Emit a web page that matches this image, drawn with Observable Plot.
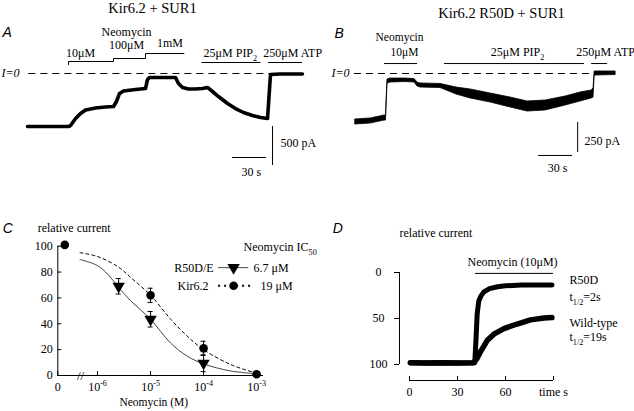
<!DOCTYPE html>
<html><head><meta charset="utf-8">
<script src="https://cdn.jsdelivr.net/npm/d3@7"></script>
<script src="https://cdn.jsdelivr.net/npm/@observablehq/plot@0.6"></script>
<style>
html,body{margin:0;padding:0;background:#fff;}
#fig{position:relative;width:634px;height:411px;overflow:hidden;background:#fff;}
#fig svg{position:absolute;left:0;top:0;}
</style></head><body><div id="fig"></div>
<script>
// ================= DATA =================
// Panel A: Kir6.2 + SUR1 current trace (time s, current pA)
const traceA_time = [0, 20, 36, 38, 42.4, 46.8, 51.2, 60, 68.8, 75.9, 78.5, 81.2, 84.7, 95.3, 104.1, 105.9, 107.6, 130.6, 133.2, 136.8, 142, 148, 154.4, 158.8, 163.2, 168.5, 176.5, 183.5, 190.6, 198.5, 205.6, 211.8, 214.4, 223, 242.6];
const traceA_current = [-680, -680, -680, -667, -577, -513, -468, -442, -429, -423, -359, -256, -224, -205, -192, -77, -51, -51, -128, -179, -199, -199, -192, -179, -231, -295, -385, -449, -500, -538, -564, -577, -13, -6, -6];
const neoA_label = ["10μM", "100μM", "1mM"];
const neoA_on = [36.2, 75.9, 104.1];
const neoA_off = [75.9, 104.1, 138];
const pipA = [154, 206];
const atpA = [212.6, 242.6];
const scaleA_pA = 500, scaleA_s = 30;

// Panel B: Kir6.2 R50D + SUR1 current trace (time s, noise envelope pA)
const traceB_time = [0, 13.2, 25.6, 26.9, 28.2, 30.9, 44.1, 52.1, 54.7, 57.4, 75, 89.1, 101.5, 119.2, 136.8, 151.8, 167.7, 185.3, 198.6, 208.3, 210, 211, 229.5];
const traceB_upper = [-383, -375, -350, -350, -50, -42, -42, -46, -75, -83, -87, -117, -133, -167, -200, -233, -225, -192, -158, -142, -125, 17, 17];
const traceB_lower = [-425, -417, -392, -392, -85, -75, -71, -75, -108, -117, -121, -175, -208, -242, -283, -317, -308, -267, -233, -208, -200, -17, -12.5];
const neoB = [25.6, 54.7];
const pipB = [78.5, 202];
const atpB = [208.3, 222.4];
const scaleB_pA = 250, scaleB_s = 30;

// Panel C: dose-response (concentration M, relative current %)
const concR50D = [2.5e-6, 1e-5, 1e-4];
const meanR50D = [69, 43.5, 9.5];
const semR50D = [6, 6, 6.5];
const concKir = [0, 1e-5, 1e-4, 1e-3];
const meanKir = [101, 62, 21, 1];
const semKir = [0, 5.5, 5.5, 0];
const fitR50D_logc = [-6.33, -6.0, -5.8, -5.61, -5.38, -5.0, -4.62, -4.31, -4.0, -3.49, -3.02];
const fitR50D_val = [89.7, 85, 78, 68.5, 58, 43.5, 25, 15, 9, 3.5, 1.5];
const fitKir_logc = [-6.33, -6.0, -5.61, -5.38, -5.0, -4.62, -4.31, -4.0, -3.49, -3.02];
const fitKir_val = [95, 92, 84, 76, 62, 43.5, 30.5, 20, 8.5, 2];
const ticksC_conc = [0, 1e-6, 1e-5, 1e-4, 1e-3];
const ticksC_y = [0, 20, 40, 60, 80, 100];
const legendC = [{name: "R50D/E", ic50: "6.7 μM"}, {name: "Kir6.2", ic50: "19 μM"}];

// Panel D: time course (time s, relative current)
const timeD_R50D = [0.5, 10, 20, 30, 40.8, 41.5, 42.3, 43.3, 44.5, 46.5, 50, 55, 60, 70, 80, 89];
const relD_R50D = [98, 98.5, 98, 98.5, 98, 75, 45, 31, 26, 21, 17.5, 15.5, 14.5, 13.5, 13.5, 13.5];
const timeD_WT = [0.5, 10, 20, 30, 40, 42, 44.4, 46.5, 48.5, 52.7, 59, 67.3, 75.6, 84, 89];
const relD_WT = [98, 98.5, 98, 98.5, 98, 94, 86, 80, 74, 67, 61, 56, 51.5, 49.5, 49];
const neoD = [41.25, 90];
const ticksD_x = [0, 30, 60, 90];
const ticksD_y = [0, 50, 100];

// ================= BUILD =================
const W = 634, H = 411;
const serif = "Liberation Serif, Times New Roman, serif";
const sans = "Liberation Sans, Arial, sans-serif";
const baseStyle = {background: "transparent", fontFamily: serif, fontSize: "12px", color: "black", overflow: "visible"};
const letter = {textAnchor: "start", fontFamily: sans, fontStyle: "italic", fontSize: 14};

const traceA = traceA_time.map((t, i) => ({t, i: traceA_current[i]}));
const traceB = traceB_time.map((t, i) => ({t, hi: traceB_upper[i], lo: traceB_lower[i]}));

// Panel A ------------------------------------------------
const levelsA = [154, 192, 256];
const stairs = [{t: neoA_on[0], y: 115}];
neoA_on.forEach((on, k) => { stairs.push({t: on, y: levelsA[k]}, {t: neoA_off[k], y: levelsA[k]}); });
const plotA = Plot.plot({
  width: W, height: H,
  marginLeft: 27, marginRight: W - 302.4, marginTop: 73, marginBottom: H - 135.4,
  x: {domain: [0, 243], axis: null},
  y: {domain: [-800, 0], axis: null},
  style: baseStyle,
  marks: [
    Plot.ruleY([0], {x1: traceA_time[0] + 1.2, x2: traceA_time[traceA_time.length - 1] - 0.2, strokeDasharray: "7,5", strokeWidth: 1}),
    Plot.line(traceA, {x: "t", y: "i", strokeWidth: 3.6, strokeLinejoin: "round"}),
    Plot.line(stairs, {x: "t", y: "y", strokeWidth: 1}),
    Plot.ruleY([141], {x1: pipA[0], x2: pipA[1], strokeWidth: 1}),
    Plot.ruleY([141], {x1: atpA[0], x2: atpA[1], strokeWidth: 1}),
    Plot.text(["Kir6.2 + SUR1"], {x: 110.3, y: 838, fontSize: 14.5}),
    Plot.text(["A"], {x: -22, y: 526, ...letter}),
    Plot.text(["Neomycin"], {x: 87.4, y: 526}),
    Plot.text(neoA_label, {x: [46.8, 87.4, 125.7], y: [256, 359, 385], text: d => d}),
    Plot.text(["25μM PIP_{2}"], {x: 179, y: 256}),
    Plot.text(["250μM ATP"], {x: 234, y: 256}),
    Plot.text(["I=0"], {x: -7, y: 0, textAnchor: "end", fontStyle: "italic"}),
    Plot.ruleX([216.2], {y1: -680, y2: -680 - scaleA_pA, strokeWidth: 1}),
    Plot.ruleY([-1077], {x1: 180.9, x2: 180.9 + scaleA_s, strokeWidth: 1}),
    Plot.text([`${scaleA_pA} pA`], {x: 223.2, y: -897, textAnchor: "start"}),
    Plot.text([`${scaleA_s} s`], {x: 197.6, y: -1269})
  ]
});

// Panel B ------------------------------------------------
const plotB = Plot.plot({
  width: W, height: H,
  marginLeft: 355, marginRight: W - 615.7, marginTop: 73, marginBottom: H - 133,
  x: {domain: [0, 230], axis: null},
  y: {domain: [-500, 0], axis: null},
  style: baseStyle,
  marks: [
    Plot.ruleY([0], {x1: traceB_time[0] - 0.9, x2: traceB_time[20] + 1, strokeDasharray: "7,5", strokeWidth: 1}),
    Plot.areaY(traceB, {x: "t", y1: "lo", y2: "hi", fill: "black", stroke: "black", strokeWidth: 0.8}),
    Plot.ruleY([83], {x1: neoB[0], x2: neoB[1], strokeWidth: 1}),
    Plot.ruleY([83], {x1: pipB[0], x2: pipB[1], strokeWidth: 1}),
    Plot.ruleY([83], {x1: atpB[0], x2: atpB[1], strokeWidth: 1}),
    Plot.text(["Kir6.2 R50D + SUR1"], {x: 128.8, y: 500, fontSize: 14.5}),
    Plot.text(["B"], {x: -18.5, y: 333, ...letter}),
    Plot.text(["Neomycin"], {x: 38.8, y: 300, fontSize: 11.5}),
    Plot.text(["10μM"], {x: 43.2, y: 176, fontSize: 11.5}),
    Plot.text(["25μM PIP_{2}"], {x: 143, y: 175}),
    Plot.text(["250μM ATP"], {x: 220.6, y: 175}),
    Plot.text(["I=0"], {x: -5.3, y: 0, textAnchor: "end", fontStyle: "italic"}),
    Plot.ruleX([196], {y1: -408, y2: -408 - scaleB_pA, strokeWidth: 1}),
    Plot.ruleY([-683], {x1: 161.5, x2: 161.5 + scaleB_s, strokeWidth: 1}),
    Plot.text([`${scaleB_pA} pA`], {x: 202, y: -567, textAnchor: "start"}),
    Plot.text([`${scaleB_s} s`], {x: 178.3, y: -792})
  ]
});

// Panel C ------------------------------------------------
const zeroAt = -6.75;
const xpos = c => c === 0 ? zeroAt : Math.log10(c);
const C = {left: 57.3, right: 263, top: 245.7, bottom: 375};
const ptsR = concR50D.map((c, i) => ({x: xpos(c), m: meanR50D[i], s: semR50D[i]}));
const ptsK = concKir.map((c, i) => ({x: xpos(c), m: meanKir[i], s: semKir[i], ctrl: c === 0}));
const fitR = fitR50D_logc.map((x, i) => ({x, y: fitR50D_val[i]}));
const fitK = fitKir_logc.map((x, i) => ({x, y: fitKir_val[i]}));
const errs = [...ptsR, ...ptsK].filter(d => d.s > 0);
const plotC = Plot.plot({
  width: W, height: H,
  marginLeft: C.left, marginRight: W - C.right, marginTop: C.top, marginBottom: H - C.bottom,
  x: {domain: [zeroAt, -2.87], label: null},
  y: {domain: [0, 100], label: null},
  style: baseStyle,
  marks: [
    Plot.ruleX([zeroAt], {strokeWidth: 1}),
    Plot.ruleY([0], {strokeWidth: 1}),
    Plot.tickY(ticksC_y, {y: d => d, insetRight: (C.right - C.left) - 4, strokeWidth: 1}),
    Plot.tickX(ticksC_conc.map(xpos), {x: d => d, insetTop: (C.bottom - C.top) - 4, strokeWidth: 1}),
    Plot.axisY({ticks: ticksC_y, tickSize: 0, tickPadding: 5, label: null}),
    Plot.axisX({ticks: ticksC_conc.map(xpos), tickSize: 0, tickPadding: 7, label: null,
      tickFormat: v => v === zeroAt ? "0" : `10^{${Math.round(v)}}`}),
    Plot.text(["//"], {x: -6.32, y: 0, fontSize: 13}),
    Plot.line(fitR, {x: "x", y: "y", curve: "catmull-rom", stroke: "#444", strokeWidth: 1}),
    Plot.line(fitK, {x: "x", y: "y", curve: "catmull-rom", stroke: "black", strokeWidth: 1, strokeDasharray: "3,3"}),
    Plot.ruleX(errs, {x: "x", y1: d => d.m - d.s, y2: d => d.m + d.s, strokeWidth: 1}),
    Plot.ruleY(errs, {y: d => d.m + d.s, x1: "x", x2: "x", insetLeft: -2.5, insetRight: -2.5, strokeWidth: 1}),
    Plot.ruleY(errs, {y: d => d.m - d.s, x1: "x", x2: "x", insetLeft: -2.5, insetRight: -2.5, strokeWidth: 1}),
    Plot.dot(ptsR, {x: "x", y: "m", symbol: "triangle", rotate: 180, r: 4.6, fill: "black", stroke: "none"}),
    Plot.dot(ptsK, {x: "x", y: "m", r: 4.3, fill: "black", stroke: "none", filter: d => !d.ctrl}),
    Plot.dot(ptsK, {x: "x", y: "m", dx: 7, r: 4.3, fill: "black", stroke: "none", filter: d => d.ctrl}),
    Plot.text(["C"], {x: -7.79, y: 113.8, ...letter}),
    Plot.text(["relative current"], {x: -7.13, y: 113.8, textAnchor: "start"}),
    Plot.text(["Neomycin (M)"], {x: -4.94, y: -21, fontSize: 11.5}),
    Plot.text(["Neomycin IC_{50}"], {x: -3.245, y: 99, textAnchor: "start"}),
    Plot.text(legendC, {x: [-3.81, -3.906], y: [83.4, 69.4], text: "name", textAnchor: "end"}),
    Plot.text(legendC, {x: [-3.057, -2.925], y: [83.4, 69.4], text: "ic50", textAnchor: "start"}),
    Plot.ruleY([83.4], {x1: -3.717, x2: -3.15, stroke: "#444", strokeWidth: 1}),
    Plot.dot([0], {x: -3.434, y: 83.4, symbol: "triangle", rotate: 180, r: 4.6, fill: "black", stroke: "none"}),
    Plot.ruleY([69.4], {x1: -3.717, x2: -3.1, strokeWidth: 2, strokeDasharray: "2,4"}),
    Plot.dot([0], {x: -3.434, y: 69.4, r: 4.3, fill: "black", stroke: "none"})
  ]
});

// Panel D ------------------------------------------------
const D = {left: 399, x0: 409, x90: 553, top: 272, y100: 364, axis: 380};
const kx = (D.x90 - D.x0) / 90, ky = (D.y100 - D.top) / 100;
const dxMin = -(D.x0 - D.left) / kx;
const dyMax = (D.axis - D.top) / ky;
const trR = timeD_R50D.map((t, i) => ({t, v: relD_R50D[i]}));
const trW = timeD_WT.map((t, i) => ({t, v: relD_WT[i]}));
const plotD = Plot.plot({
  width: W, height: H,
  marginLeft: D.left, marginRight: W - D.x90, marginTop: D.top, marginBottom: H - D.axis,
  x: {domain: [dxMin, 90], label: null},
  y: {domain: [0, dyMax], reverse: true, label: null},
  style: baseStyle,
  marks: [
    Plot.ruleX([dxMin], {y1: 0, y2: 100, strokeWidth: 1}),
    Plot.ruleY([dyMax], {x1: 0, x2: 90, strokeWidth: 1}),
    Plot.tickX(ticksD_x, {x: d => d, insetTop: (D.axis - D.top) - 4, strokeWidth: 1}),
    Plot.axisY({ticks: ticksD_y, tickSize: 5, tickPadding: 16, textAnchor: "middle", label: null}),
    Plot.axisX({ticks: ticksD_x, tickSize: 0, tickPadding: 7, label: null, tickFormat: d => d === 90 ? "time s" : String(d)}),
    Plot.line(trW, {x: "t", y: "v", strokeWidth: 5.5, strokeLinejoin: "round"}),
    Plot.line(trR, {x: "t", y: "v", strokeWidth: 5, strokeLinejoin: "round"}),
    Plot.ruleY([1], {x1: neoD[0], x2: neoD[1], strokeWidth: 1}),
    Plot.text(["Neomycin (10μM)"], {x: 64.4, y: -10.9}),
    Plot.text(["D"], {x: -48, y: -47.8, ...letter}),
    Plot.text(["relative current"], {x: dxMin, y: -42.4, textAnchor: "start"}),
    Plot.text(["R50D", "t_{1/2}=2s", "Wild-type", "t_{1/2}=19s"], {x: 100, y: [8.7, 27.2, 55.4, 70.7], text: d => d, textAnchor: "start"})
  ]
});

const fig = document.getElementById("fig");
[plotA, plotB, plotC, plotD].forEach(p => fig.appendChild(p));

// rich text: _{sub} and ^{super}
function richify(svg) {
  const NS = "http://www.w3.org/2000/svg";
  const nodes = Array.from(svg.querySelectorAll("text, tspan"))
    .filter(n => n.children.length === 0 && /[_^]\{/.test(n.textContent));
  for (const el of nodes) {
    const s = el.textContent;
    const fs = parseFloat(getComputedStyle(el).fontSize) || 12;
    el.textContent = "";
    const re = /([_^])\{([^}]*)\}/g;
    let last = 0, m, shift = 0;
    const add = (txt, script) => {
      if (!txt) return;
      const ts = document.createElementNS(NS, "tspan");
      let target = 0;
      if (script) {
        target = script === "_" ? fs * 0.28 : -fs * 0.42;
        ts.setAttribute("font-size", (fs * 0.68).toFixed(2) + "px");
      }
      if (target !== shift) ts.setAttribute("dy", (target - shift).toFixed(2));
      shift = target;
      ts.textContent = txt;
      el.appendChild(ts);
    };
    while ((m = re.exec(s))) {
      add(s.slice(last, m.index), null);
      add(m[2], m[1]);
      last = re.lastIndex;
    }
    add(s.slice(last), null);
  }
}
[plotA, plotB, plotC, plotD].forEach(richify);
</script></body></html>
